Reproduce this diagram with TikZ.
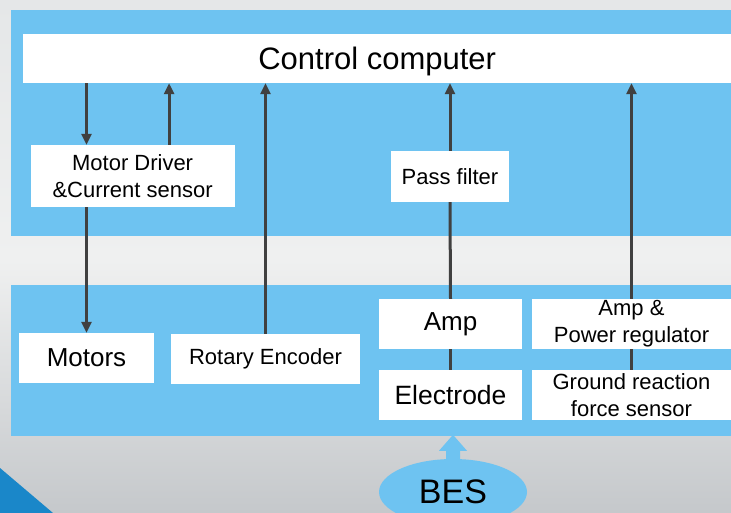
\documentclass[tikz,border=0pt]{standalone}
\usepackage{fontspec}
\setmainfont{Liberation Sans}
\usetikzlibrary{arrows.meta,shapes.geometric}
\definecolor{panelblue}{HTML}{6EC3F1}
\definecolor{cornerblue}{HTML}{1A87C9}
\definecolor{arrowgray}{HTML}{404040}
\definecolor{bgtop}{HTML}{E5E7E8}
\definecolor{bgmid}{HTML}{EFF0F0}
\definecolor{bgbot}{HTML}{C5C8CB}
\begin{document}
\begin{tikzpicture}[x=1pt,y=-1pt,
  box/.style={fill=white,inner sep=0pt,align=center,font=\fontsize{22}{27}\selectfont},
  arr/.style={draw=arrowgray,line width=3pt,-{Triangle[length=11pt,width=10pt]}},
  link/.style={draw=arrowgray,line width=3pt}]
\useasboundingbox (0,0) rectangle (731,513);
\clip (0,0) rectangle (731,513);
\shade[top color=bgtop,bottom color=bgmid] (0,0) rectangle (731,260);
\shade[top color=bgmid,bottom color=bgbot] (0,260) rectangle (731,513);
\fill[cornerblue] (0,468)--(53,513)--(0,513)--cycle;
\fill[panelblue] (11,10) rectangle (731,236);
\fill[panelblue] (11,285) rectangle (731,436);
% boxes
\node[box,minimum width=708,minimum height=49,text depth=0pt,font=\fontsize{31}{36}\selectfont] (ctrl) at (377.2,58.5) {Control computer};
\node[box,minimum width=204,minimum height=62] (drv) at (132.6,176) {Motor Driver\\\&Current sensor};
\node[box,minimum width=118,minimum height=51] (pf) at (450,176.5) {Pass filter};
\node[box,minimum width=135,minimum height=50,font=\fontsize{26}{30}\selectfont] (mot) at (86.5,358) {Motors};
\node[box,minimum width=189,minimum height=50] (enc) at (265.5,359) {Rotary Encoder};
\node[box,minimum width=143,minimum height=50,font=\fontsize{26}{30}\selectfont] (amp) at (450.5,324) {Amp};
\node[box,minimum width=143,minimum height=50,font=\fontsize{26.5}{30}\selectfont] (elec) at (450.5,395) {Electrode};
\node[box,minimum width=199,minimum height=50] (pwr) at (631.5,324) {Amp \&\\Power regulator};
\node[box,minimum width=199,minimum height=50] (grf) at (631.5,395) {Ground reaction\\force sensor};
\node[fill=panelblue,ellipse,minimum width=148,minimum height=66,inner sep=0pt,font=\fontsize{34}{38}\selectfont] (bes) at (453,492) {BES};
% connectors
\draw[arr] (ctrl.south -| mot.north) -- (drv.north -| mot.north);
\draw[arr] (drv.south -| mot.north) -- (mot.north);
\draw[arr] ([xshift=36.5pt]drv.north) -- ([xshift=36.5pt]drv.north |- ctrl.south);
\draw[arr] (enc.north) -- (enc.north |- ctrl.south);
\draw[link] (elec.north) -- (amp.south);
\draw[link] (amp.north) -- (pf.south);
\draw[arr] (pf.north) -- (pf.north |- ctrl.south);
\draw[link] (grf.north) -- (pwr.south);
\draw[arr] (pwr.north) -- (pwr.north |- ctrl.south);
\fill[panelblue] (bes.north) ++(-7,2) -- ++(0,-10) -- ++(-7,0) -- ++(14,-16) -- ++(14,16) -- ++(-7,0) -- ++(0,10) -- cycle;
\end{tikzpicture}
\end{document}
